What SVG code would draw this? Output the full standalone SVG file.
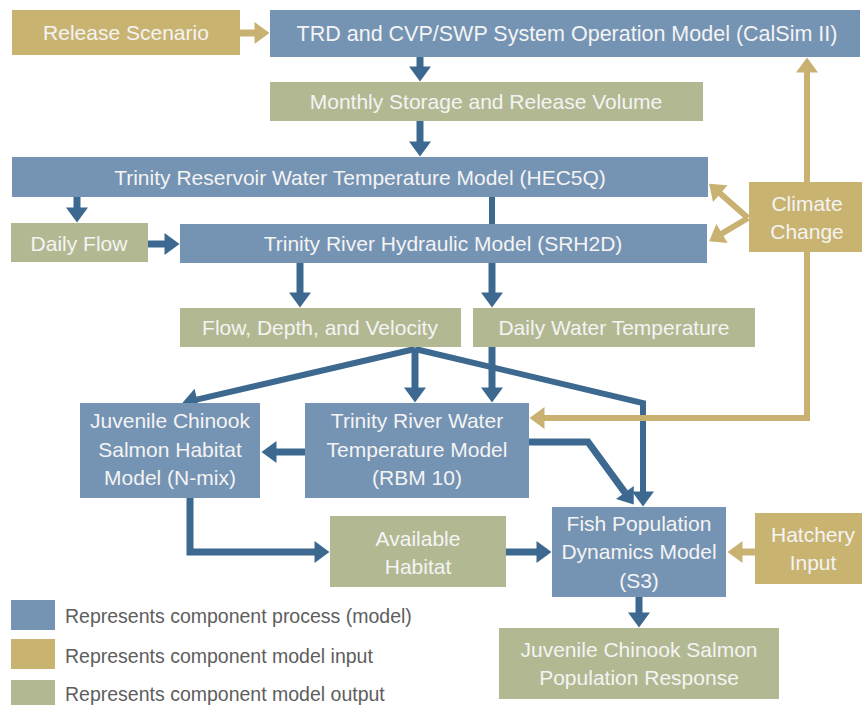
<svg xmlns="http://www.w3.org/2000/svg" width="862" height="705" viewBox="0 0 862 705">
<defs>
<style>
.proc{fill:#7593B3}
.inp{fill:#C9B371}
.out{fill:#B2B992}
.t{font-family:"Liberation Sans",Arial,sans-serif;font-size:21px;fill:#F4F4F4;text-anchor:middle}
.lg{font-family:"Liberation Sans",Arial,sans-serif;font-size:19.5px;fill:#5E5E5E}
.cb{fill:none;stroke:#3D6890;stroke-width:7;stroke-linejoin:miter}
.cg{fill:none;stroke:#C9B271;stroke-width:7;stroke-linejoin:miter}
</style>
<marker id="hb" markerUnits="userSpaceOnUse" markerWidth="16" markerHeight="22" refX="0.5" refY="11" orient="auto" overflow="visible"><path d="M0,0 L15,11 L0,22 z" fill="#3D6890"/></marker>
<marker id="hg" markerUnits="userSpaceOnUse" markerWidth="16" markerHeight="22" refX="0.5" refY="11" orient="auto" overflow="visible"><path d="M0,0 L15,11 L0,22 z" fill="#C9B271"/></marker>
</defs>
<rect width="862" height="705" fill="#FFFFFF"/>

<g id="connectors">
<line class="cb" x1="420" y1="57" x2="420" y2="67" marker-end="url(#hb)"/>
<line class="cb" x1="420" y1="121" x2="420" y2="142" marker-end="url(#hb)"/>
<line class="cb" x1="77" y1="197" x2="77" y2="208" marker-end="url(#hb)"/>
<line class="cb" x1="148" y1="244" x2="165" y2="244" marker-end="url(#hb)"/>
<line class="cb" x1="492" y1="197" x2="492" y2="224" style="stroke-width:6"/>
<line class="cb" x1="300" y1="263" x2="300" y2="293" marker-end="url(#hb)"/>
<line class="cb" x1="492" y1="263" x2="492" y2="293" marker-end="url(#hb)"/>
<line class="cb" x1="415" y1="349" x2="196.6" y2="399.6" style="stroke-width:6" marker-end="url(#hb)"/>
<line class="cb" x1="415" y1="349" x2="415" y2="388" marker-end="url(#hb)"/>
<polyline class="cb" points="415,349 643,403 643,492" style="stroke-width:6" marker-end="url(#hb)"/>
<line class="cb" x1="492" y1="347" x2="492" y2="388" marker-end="url(#hb)"/>
<line class="cb" x1="305" y1="452" x2="276" y2="452" marker-end="url(#hb)"/>
<polyline class="cb" points="529,442 588,442 625.2,492.9" marker-end="url(#hb)"/>
<polyline class="cb" points="190,498 190,552 315,552" marker-end="url(#hb)"/>
<line class="cb" x1="506" y1="552" x2="537" y2="552" marker-end="url(#hb)"/>
<line class="cb" x1="639" y1="597" x2="639" y2="613" marker-end="url(#hb)"/>

<line class="cg" x1="240" y1="33" x2="255" y2="33" marker-end="url(#hg)"/>
<line class="cg" x1="807" y1="182" x2="807" y2="72" style="stroke-width:6" marker-end="url(#hg)"/>
<line class="cg" x1="748" y1="218" x2="719.9" y2="193.3" style="stroke-width:6" marker-end="url(#hg)"/>
<line class="cg" x1="748" y1="218" x2="721.6" y2="233.8" style="stroke-width:6" marker-end="url(#hg)"/>
<polyline class="cg" points="807,252 807,418 544,418" style="stroke-width:6" marker-end="url(#hg)"/>
<line class="cg" x1="755" y1="552" x2="742" y2="552" marker-end="url(#hg)"/>
</g>

<g id="release-scenario"><rect class="inp" x="12" y="10" width="228" height="45"/><text class="t" x="126" y="40">Release Scenario</text></g>
<g id="calsim"><rect class="proc" x="270" y="10" width="590" height="47"/><text class="t" x="567" y="41" style="font-size:21.5px">TRD and CVP/SWP System Operation Model (CalSim II)</text></g>
<g id="monthly-storage"><rect class="out" x="270" y="82" width="433" height="39"/><text class="t" x="486" y="109">Monthly Storage and Release Volume</text></g>
<g id="hec5q"><rect class="proc" x="12" y="157" width="696" height="40"/><text class="t" x="360" y="185">Trinity Reservoir Water Temperature Model (HEC5Q)</text></g>
<g id="daily-flow"><rect class="out" x="11" y="223" width="137" height="39"/><text class="t" x="79" y="251">Daily Flow</text></g>
<g id="srh2d"><rect class="proc" x="180" y="224" width="527" height="39"/><text class="t" x="443" y="251">Trinity River Hydraulic Model (SRH2D)</text></g>
<g id="climate-change"><rect class="inp" x="749" y="182" width="113" height="70"/><text class="t" x="807" y="211">Climate</text><text class="t" x="807" y="239">Change</text></g>
<g id="flow-depth-velocity"><rect class="out" x="180" y="308" width="281" height="39"/><text class="t" x="320" y="335">Flow, Depth, and Velocity</text></g>
<g id="daily-water-temperature"><rect class="out" x="473" y="308" width="282" height="39"/><text class="t" x="614" y="335">Daily Water Temperature</text></g>
<g id="habitat-model"><rect class="proc" x="80" y="403" width="180" height="95"/><text class="t" x="170" y="428">Juvenile Chinook</text><text class="t" x="170" y="457">Salmon Habitat</text><text class="t" x="170" y="485">Model (N-mix)</text></g>
<g id="rbm10"><rect class="proc" x="305" y="403" width="224" height="95"/><text class="t" x="417" y="428">Trinity River Water</text><text class="t" x="417" y="457">Temperature Model</text><text class="t" x="417" y="485">(RBM 10)</text></g>
<g id="available-habitat"><rect class="out" x="330" y="516" width="176" height="71"/><text class="t" x="418" y="546">Available</text><text class="t" x="418" y="574">Habitat</text></g>
<g id="fish-population"><rect class="proc" x="552" y="507" width="174" height="90"/><text class="t" x="639" y="531">Fish Population</text><text class="t" x="639" y="559">Dynamics Model</text><text class="t" x="639" y="588">(S3)</text></g>
<g id="hatchery-input"><rect class="inp" x="755" y="513" width="107" height="71"/><text class="t" x="813" y="542">Hatchery</text><text class="t" x="813" y="570">Input</text></g>
<g id="population-response"><rect class="out" x="499" y="628" width="280" height="71"/><text class="t" x="639" y="657">Juvenile Chinook Salmon</text><text class="t" x="639" y="685">Population Response</text></g>

<g id="legend">
<rect class="proc" x="11" y="600" width="44" height="30"/><text class="lg" x="65" y="623">Represents component process (model)</text>
<rect class="inp" x="11" y="639" width="44" height="30"/><text class="lg" x="65" y="663">Represents component model input</text>
<rect class="out" x="11" y="680" width="44" height="30"/><text class="lg" x="65" y="701">Represents component model output</text>
</g>
</svg>
